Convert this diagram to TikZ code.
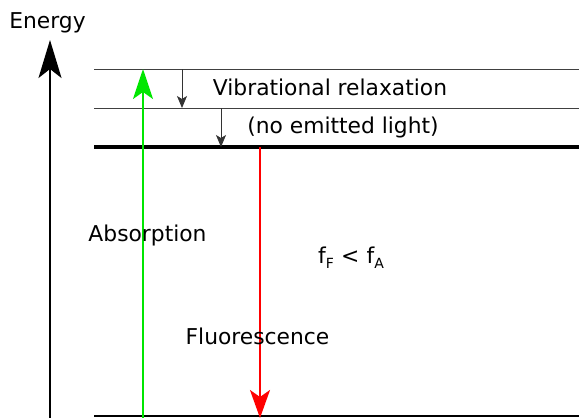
\documentclass[tikz,border=0pt]{standalone}
\usepackage{fontspec}
\setmainfont{DejaVu Sans}
\usetikzlibrary{arrows.meta}
\begin{document}
\begin{tikzpicture}[x=1pt,y=-1pt,
  lbl/.style={font=\fontsize{21.8}{24}\selectfont, inner sep=0pt, anchor=base},
  level/.style={draw=black!75, line width=1pt},
  relax/.style={draw=black!80, line width=0.9pt, -{Stealth[length=12pt,width=10pt,inset=3pt]}},
  bigtip/.style={-{Stealth[length=#1,width=20pt,inset=7pt]}}
]
\useasboundingbox (0,0) rectangle (579,418);
% level coordinates
\coordinate (v2l) at (94,69);   \coordinate (v2r) at (579,69);
\coordinate (v1l) at (94,108);  \coordinate (v1r) at (579,108);
\coordinate (v0l) at (94,147);  \coordinate (v0r) at (579,147);
\coordinate (gl) at (94,416);   \coordinate (gr) at (579,416);
\draw[level] (v2l) -- (v2r);
\draw[level] (v1l) -- (v1r);
\draw[black, line width=4pt] (v0l) -- (v0r);
\draw[black, line width=2pt] (gl) -- (gr);
% energy axis
\coordinate (ax0) at (50,418); \coordinate (ax1) at (50,40);
\draw[line width=2pt, -{Stealth[length=38pt,width=23pt,inset=9pt]}] (ax0) -- (ax1);
\node[lbl] (energy) at (47.5,28) {Energy};
% absorption
\coordinate (a0) at (143,418); \coordinate (a1) at (143,69);
\draw[draw={rgb,255:red,0;green,230;blue,0}, line width=2pt, bigtip=30pt] (a0) -- (a1);
% fluorescence
\coordinate (f0) at (260,147); \coordinate (f1) at (260,418);
\draw[draw={rgb,255:red,255;green,0;blue,0}, line width=2pt, bigtip=28pt] (f0) -- (f1);
% vibrational relaxation
\coordinate (r1a) at (182,69);  \coordinate (r1b) at (182,108);
\coordinate (r2a) at (221,108); \coordinate (r2b) at (221,147);
\draw[relax] (r1a) -- (r1b);
\draw[relax] (r2a) -- (r2b);
% labels
\node[lbl] (vib) at (330,95) {Vibrational relaxation};
\node[lbl] (noem) at (343,133) {(no emitted light)};
\node[lbl] (abs) at (147.5,241) {Absorption};
\node[lbl] (fluo) at (257.5,344) {Fluorescence};
\node[lbl] (ff) at (351,263) {f\raisebox{-5pt}{\fontsize{14}{14}\selectfont F}\,\,<\,\,f\raisebox{-5pt}{\fontsize{14}{14}\selectfont A}};
\end{tikzpicture}
\end{document}
